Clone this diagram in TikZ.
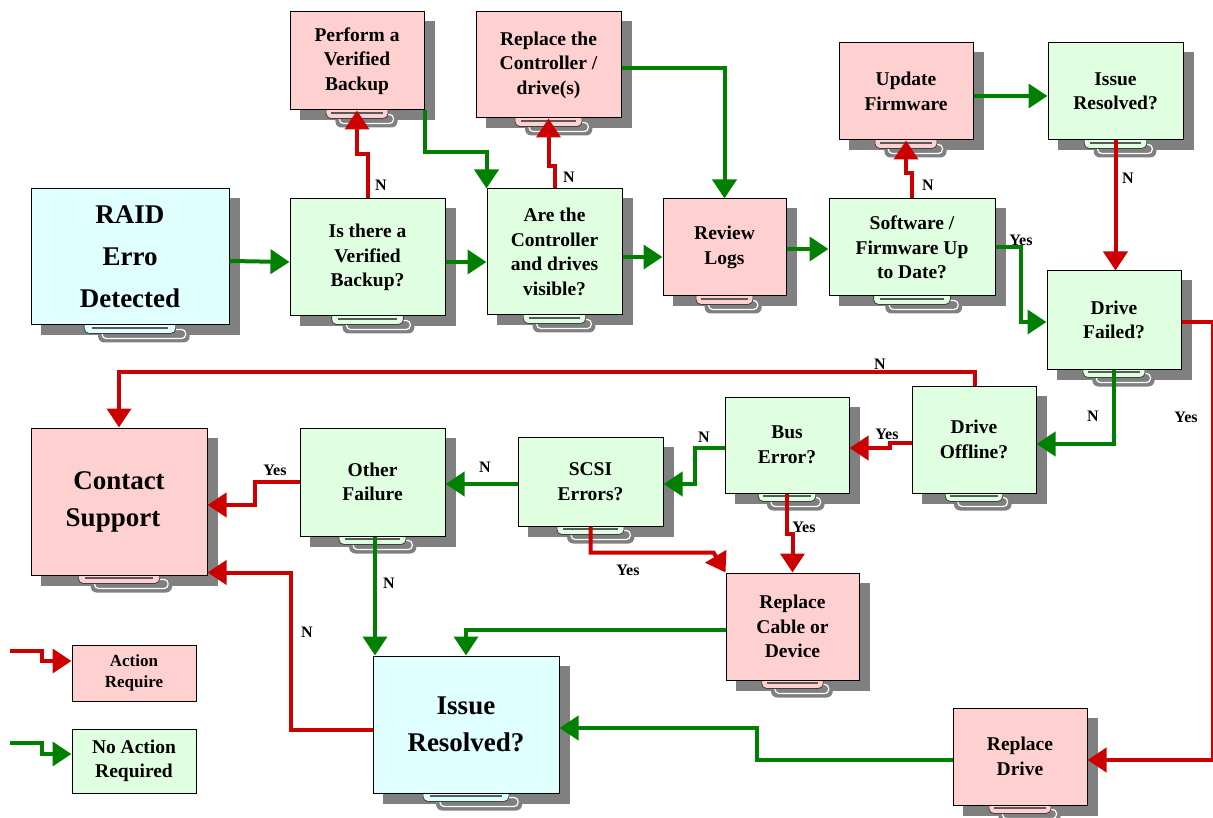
\documentclass[tikz,border=0pt]{standalone}
\usepackage{fontspec}
\setmainfont{Liberation Serif}
\usetikzlibrary{arrows.meta,calc,backgrounds}
\definecolor{pinkc}{RGB}{255,208,208}
\definecolor{greenc}{RGB}{224,255,224}
\definecolor{cyanc}{RGB}{224,255,255}
\definecolor{redl}{RGB}{204,0,0}
\definecolor{greenl}{RGB}{0,128,0}
\definecolor{shadowc}{RGB}{128,128,128}
\tikzset{
  box/.style={draw=black, line width=1pt, align=center, inner sep=2pt,
    font=\bfseries\fontsize{19.5}{24.5}\selectfont},
  bigtext/.style={font=\bfseries\fontsize{27}{37}\selectfont},
  pinkbox/.style={box, fill=pinkc},
  greenbox/.style={box, fill=greenc},
  cyanbox/.style={box, fill=cyanc},
  rline/.style={draw=redl, line width=4pt, -{Triangle[length=19pt,width=24pt]}},
  gline/.style={draw=greenl, line width=4pt, -{Triangle[length=19pt,width=24pt]}},
  lab/.style={font=\bfseries\fontsize{16}{16}\selectfont, inner sep=0pt},
}
\newcommand\deco[2]{%
  \begin{scope}[on background layer]
    \fill[shadowc] ($(#1.north west)+(10,10)$) rectangle ($(#1.south east)+(10,10)$);
    \fill[shadowc, rounded corners=6pt] ($(#1.south west)!0.34!(#1.south east)+(0,2)$) rectangle ($(#1.south west)!0.80!(#1.south east)+(0,17)$);
    \draw[white, line width=1.2pt, rounded corners=4pt] ($(#1.south west)!0.34!(#1.south east)+(4,4)$) rectangle ($(#1.south west)!0.80!(#1.south east)+(-4,13)$);
    \filldraw[fill=#2, draw=black!75, line width=0.8pt, rounded corners=5pt] ($(#1.south west)!0.27!(#1.south east)+(0,-6)$) rectangle ($(#1.south west)!0.73!(#1.south east)+(0,8)$);
    \draw[black!65, line width=1.5pt] ($(#1.south west)!0.31!(#1.south east)+(0,2.5)$) -- ($(#1.south west)!0.69!(#1.south east)+(0,2.5)$);
  \end{scope}}
\begin{document}
\begin{tikzpicture}[x=1pt,y=-1pt]
\useasboundingbox (0,0) rectangle (1213,818);

% ---------- nodes ----------
\node[cyanbox, font=\bfseries\fontsize{27}{42}\selectfont, minimum width=198pt, minimum height=136pt] (raid) at (130,257) {RAID\\Erro\\Detected};
\node[greenbox, minimum width=155pt, minimum height=117pt] (isbk) at (367.5,257.5) {Is there a\\Verified\\Backup?};
\node[pinkbox, minimum width=134pt, minimum height=98pt] (perform) at (357,61) {Perform a\\Verified\\Backup};
\node[greenbox, minimum width=135pt, minimum height=126pt] (arectl) at (554.5,252) {Are the\\Controller\\and drives\\visible?};
\node[pinkbox, minimum width=145pt, minimum height=106pt] (replctl) at (548.5,65) {Replace the\\Controller /\\drive(s)};
\node[pinkbox, minimum width=123pt, minimum height=97pt] (review) at (724.5,247.5) {Review\\Logs};
\node[greenbox, minimum width=166pt, minimum height=97pt] (software) at (912,247.5) {Software /\\Firmware Up\\to Date?};
\node[pinkbox, minimum width=134pt, minimum height=97pt] (update) at (906,91.5) {Update\\Firmware};
\node[greenbox, minimum width=135pt, minimum height=97pt] (issuetop) at (1115.5,91.5) {Issue\\Resolved?};
\node[greenbox, minimum width=134pt, minimum height=98pt] (drivefail) at (1114,320) {Drive\\Failed?};
\node[greenbox, minimum width=124pt, minimum height=107pt] (driveoff) at (974,439.5) {Drive\\Offline?};
\node[greenbox, minimum width=124pt, minimum height=96pt] (bus) at (787,445) {Bus\\Error?};
\node[greenbox, minimum width=145pt, minimum height=89pt] (scsi) at (590.5,481.5) {SCSI\\Errors?};
\node[greenbox, minimum width=145pt, minimum height=108pt] (other) at (372.5,482) {Other\\Failure};
\node[pinkbox, bigtext, minimum width=176pt, minimum height=147pt] (contact) at (119,501.5) {Contact\\Support\hspace*{12pt}};
\node[pinkbox, minimum width=133pt, minimum height=107pt] (replcable) at (792.5,626.5) {Replace\\Cable or\\Device};
\node[cyanbox, bigtext, minimum width=186pt, minimum height=137pt] (issuebot) at (466,724.5) {Issue\\Resolved?};
\node[pinkbox, minimum width=134pt, minimum height=97pt] (repldrive) at (1020,756.5) {Replace\\Drive};
\node[pinkbox, minimum width=124pt, minimum height=56pt, font=\bfseries\fontsize{17}{21}\selectfont] (lega) at (134,673) {Action\\Require};
\node[greenbox, minimum width=124pt, minimum height=64pt] (legb) at (134,761) {No Action\\Required};

\deco{raid}{cyanc}
\deco{isbk}{greenc}
\deco{perform}{pinkc}
\deco{arectl}{greenc}
\deco{replctl}{pinkc}
\deco{review}{pinkc}
\deco{software}{greenc}
\deco{update}{pinkc}
\deco{issuetop}{greenc}
\deco{drivefail}{greenc}
\deco{driveoff}{greenc}
\deco{bus}{greenc}
\deco{scsi}{greenc}
\deco{other}{greenc}
\deco{contact}{pinkc}
\deco{replcable}{pinkc}
\deco{issuebot}{cyanc}
\deco{repldrive}{pinkc}

% ---------- connectors ----------
\draw[gline] ([yshift=-4pt]raid.east) -- ([yshift=-4.5pt]isbk.west);
\draw[rline] (isbk.north) -- ++(0,-44) -| (perform.south);
\draw[gline] (perform.south east) -- ++(0,42) -| (arectl.north west);
\draw[gline] ($(isbk.east)+(0,4.5)$) -- ($(arectl.west)+(0,10)$);
\draw[rline] (arectl.north) -- ++(0,-22) -| (replctl.south);
\draw[gline] ([yshift=-3pt]replctl.east) -| (review.north);
\draw[gline] ($(arectl.east)+(0,5)$) -- ($(review.west)+(0,9.5)$);
\draw[gline] ([yshift=-1.5pt]review.east) -- ([yshift=-1.5pt]software.west);
\draw[rline] (software.north) -- ++(0,-25) -| (update.south);
\draw[gline] ([yshift=-4.5pt]update.east) -- ([yshift=-4.5pt]issuetop.west);
\draw[rline] (issuetop.south) -- (issuetop.south |- drivefail.north);
\draw[gline] (software.east) -- ++(25,0) |- ([yshift=-2pt]drivefail.west);
\draw[rline] ([yshift=-2pt]drivefail.east) -- ++(31,0) |- ([yshift=-3.5pt]repldrive.east);
\draw[gline] (drivefail.south) |- ([yshift=-4.5pt]driveoff.east);
\draw[rline] ([xshift=1pt]driveoff.north) -- ++(0,-14) -| (contact.north);
\draw[rline] ([yshift=-3.5pt]driveoff.west) -- ++(-22,0) |- ([yshift=-3pt]bus.east);
\draw[gline] ([yshift=-3pt]bus.west) -- ++(-30,0) |- ([yshift=-2.5pt]scsi.east);
\draw[rline] (bus.south) -- ++(0,40) -| (replcable.north);
\draw[gline] ([yshift=-2.5pt]scsi.west) -- ([yshift=-2pt]other.east);
\draw[rline] (scsi.south) |- ($(replcable.north west)+(-12,-20)$) -- (replcable.north west);
\draw[rline] (other.west) -- ++(-45,0) |- ([yshift=-3.5pt]contact.east);
\draw[gline] ([xshift=2.5pt]other.south) -- ([xshift=2.5pt]other.south |- issuebot.north);
\draw[gline] ([yshift=-3.5pt]replcable.west) -| (issuebot.north);
\draw[rline] ([yshift=-5.5pt]issuebot.west) -- ++(-82,0) |- ([yshift=3pt]contact.south east);
\draw[gline] ([yshift=-3.5pt]repldrive.west) -- ++(-196,0) |- ([yshift=-3.5pt]issuebot.east);

% legend arrows
\coordinate (la) at (10,651);
\coordinate (lb) at (10,743);
\draw[rline] (la) -- ++(32,0) -- ++(0,10) -- ([yshift=-1pt]lega.west |- 0,660);
\draw[gline] (lb) -- ++(32,0) -- ++(0,11) -- (legb.west |- 0,754);

% ---------- labels ----------
\node[lab] (l1) at (381,185) {N};
\node[lab] (l2) at (569,177) {N};
\node[lab] (l3) at (928,185) {N};
\node[lab] (l4) at (1128,178) {N};
\node[lab] (l5) at (1021,240) {Yes};
\node[lab] (l6) at (1186,417) {Yes};
\node[lab] (l7) at (1093,416) {N};
\node[lab] (l8) at (880,364) {N};
\node[lab] (l9) at (887,434) {Yes};
\node[lab] (l10) at (704,437) {N};
\node[lab] (l11) at (804,527) {Yes};
\node[lab] (l12) at (485,467) {N};
\node[lab] (l13) at (628,570) {Yes};
\node[lab] (l14) at (275,470) {Yes};
\node[lab] (l15) at (389,583) {N};
\node[lab] (l16) at (307,632) {N};
\end{tikzpicture}
\end{document}
